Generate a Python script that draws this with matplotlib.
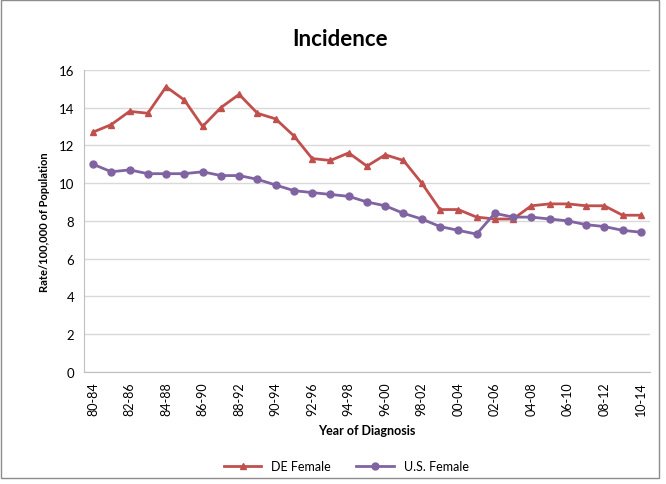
import matplotlib
matplotlib.use("Agg")
from matplotlib import pyplot as plt
from matplotlib.patches import Rectangle

periods = ["80-84", "81-85", "82-86", "83-87", "84-88", "85-89", "86-90", "87-91",
           "88-92", "89-93", "90-94", "91-95", "92-96", "93-97", "94-98", "95-99",
           "96-00", "97-01", "98-02", "99-03", "00-04", "01-05", "02-06", "03-07",
           "04-08", "05-09", "06-10", "07-11", "08-12", "09-13", "10-14"]

de_female = [12.7, 13.1, 13.8, 13.7, 15.1, 14.4, 13.0, 14.0, 14.7, 13.7, 13.4,
             12.5, 11.3, 11.2, 11.6, 10.9, 11.5, 11.2, 10.0, 8.6, 8.6, 8.2,
             8.1, 8.1, 8.8, 8.9, 8.9, 8.8, 8.8, 8.3, 8.3]
us_female = [11.0, 10.6, 10.7, 10.5, 10.5, 10.5, 10.6, 10.4, 10.4, 10.2, 9.9,
             9.6, 9.5, 9.4, 9.3, 9.0, 8.8, 8.4, 8.1, 7.7, 7.5, 7.3, 8.4, 8.2,
             8.2, 8.1, 8.0, 7.8, 7.7, 7.5, 7.4]

plt.rcParams['font.family'] = ['Lato', 'DejaVu Sans']

fig = plt.figure(figsize=(6.66, 4.85), dpi=100)
ax = fig.add_axes([0.126, 0.231, 0.85, 0.623])

x = list(range(len(periods)))
ax.plot(x, de_female, color="#C0504D", marker="^", markersize=5,
        linewidth=2, label="DE Female")
ax.plot(x, us_female, color="#8064A2", marker="o", markersize=5,
        linewidth=2, label="U.S. Female")

ax.set_xlim(-0.5, len(periods) - 0.5)
ax.set_ylim(0, 16)
ax.set_yticks(range(0, 17, 2))
ax.set_xticks(x[::2])
ax.set_xticklabels(periods[::2], rotation=90, fontsize=9)
ax.tick_params(axis='y', labelsize=9.5, length=0, pad=7)
ax.tick_params(axis='x', length=0, pad=7)
ax.grid(axis='y', color="#D9D9D9", linewidth=1)
ax.set_axisbelow(True)
for s in ['top', 'right']:
    ax.spines[s].set_visible(False)
ax.spines['left'].set_color("#BFBFBF")
ax.spines['bottom'].set_color("#BFBFBF")

ax.set_ylabel("Rate/100,000 of Population", fontsize=8, fontweight='bold', labelpad=6)
ax.set_xlabel("Year of Diagnosis", fontsize=9, fontweight='bold', labelpad=6)
fig.text(0.51, 0.918, "Incidence", ha='center', va='center',
         fontsize=16, fontweight='bold')

fig.legend(loc='center', bbox_to_anchor=(0.52, 0.037), ncol=2, frameon=False,
           fontsize=9, handlelength=3, columnspacing=2)

fig.patches.append(Rectangle((0.002, 0.012), 0.988, 0.985, transform=fig.transFigure,
                             fill=False, edgecolor="#8C8C8C", linewidth=1))

fig.savefig("out.png", dpi=100)
